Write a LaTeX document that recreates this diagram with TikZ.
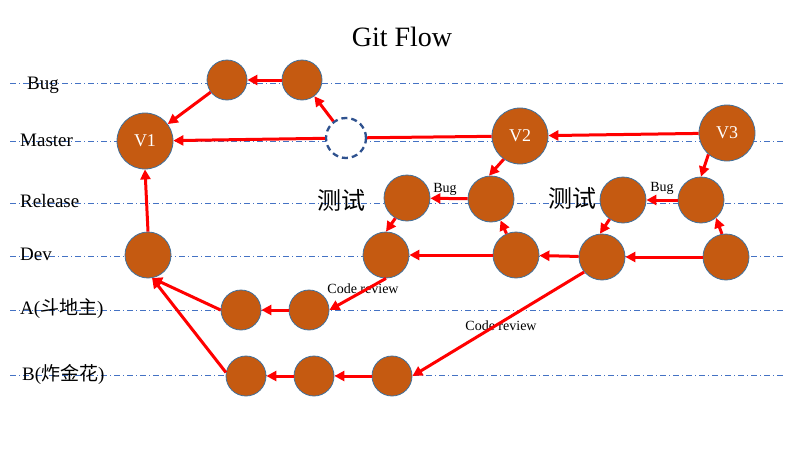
\documentclass[tikz,border=0pt]{standalone}
\usepackage{fontspec}
\setmainfont{Liberation Serif}
\newfontfamily\cjk{Noto Sans CJK SC}
\usetikzlibrary{arrows.meta}
\definecolor{nodefill}{HTML}{C55A11}
\definecolor{nodeedge}{HTML}{41719C}
\definecolor{ghostedge}{HTML}{2F528F}
\definecolor{lanecol}{HTML}{4472C4}
\begin{document}
\begin{tikzpicture}[x=1pt,y=-1pt,
  commit/.style={circle,fill=nodefill,draw=nodeedge,line width=0.8pt,minimum size=40pt,inner sep=0pt},
  bigcommit/.style={commit,minimum size=56pt,text=white,font=\fontsize{18}{18}\selectfont},
  midcommit/.style={commit,minimum size=46pt},
  ghost/.style={circle,fill=white,draw=ghostedge,line width=2.3pt,dash pattern=on 6pt off 4pt,minimum size=40pt,inner sep=0pt},
  lane/.style={draw=lanecol,line width=0.7pt,dash pattern=on 6pt off 3pt on 1pt off 3pt},
  flow/.style={draw=red,line width=3pt,-{Triangle[length=10pt,width=10pt]}},
  plainflow/.style={draw=red,line width=3pt},
  lanelabel/.style={anchor=base west,font=\fontsize{19}{19}\selectfont,inner sep=0pt},
  smalllabel/.style={font=\fontsize{14}{14}\selectfont,inner sep=0pt},
  testlabel/.style={font=\cjk\fontsize{24}{24}\selectfont,inner sep=0pt},
  titlelabel/.style={font=\fontsize{28}{28}\selectfont,inner sep=0pt}
]
\useasboundingbox (0,0) rectangle (800,450);
\fill[white] (0,0) rectangle (800,450);

% lanes
\foreach \yy in {83,141,203,256,310,375}
  \draw[lane] (10,\yy) -- (785,\yy);

% title and lane labels
\node[titlelabel] (title) at (402,37) {Git Flow};
\node[lanelabel] (lBug) at (27,89) {Bug};
\node[lanelabel] (lMaster) at (20,146) {Master};
\node[lanelabel] (lRelease) at (20,207) {Release};
\node[lanelabel] (lDev) at (20,260) {Dev};
\node[lanelabel] (lA) at (20,314) {A({\cjk 斗地主})};
\node[lanelabel] (lB) at (22,380) {B({\cjk 炸金花})};

% commits
\node[bigcommit] (V1) at (145,141) {V1};
\node[commit] (G1) at (227,80) {};
\node[commit] (G2) at (302,80) {};
\node[ghost] (H) at (346,138) {};
\node[bigcommit] (V2) at (520,136) {V2};
\node[bigcommit] (V3) at (727,133) {V3};
\node[midcommit] (R1) at (407,198) {};
\node[midcommit] (R2) at (491,199) {};
\node[midcommit] (R3) at (623,200) {};
\node[midcommit] (R4) at (701,200) {};
\node[midcommit] (D1) at (148,255) {};
\node[midcommit] (D2) at (386,255) {};
\node[midcommit] (D3) at (516,255) {};
\node[midcommit] (D4) at (602,257) {};
\node[midcommit] (D5) at (726,257) {};
\node[commit] (A1) at (241,310) {};
\node[commit] (A2) at (309,310) {};
\node[commit] (B1) at (246,376) {};
\node[commit] (B2) at (314,376) {};
\node[commit] (B3) at (392,376) {};

% texts
\node[testlabel] (t1) at (341,200) {测试};
\node[testlabel] (t2) at (572,198) {测试};
\node[smalllabel] (bug1) at (445,189) {Bug};
\node[smalllabel] (bug2) at (662,188) {Bug};
\node[smalllabel] (cr1) at (363,289) {Code review};
\node[smalllabel] (cr2) at (501,326) {Code review};

% connectors
\draw[flow] (G1) -- (V1);
\draw[flow] (G2) -- (G1);
\draw[flow] (H) -- (G2);
\draw[flow] (H) -- (V1);
\draw[plainflow] (V2) -- (H);
\draw[flow] (V3) -- (V2);
\draw[flow] (V2.235) -- (R2.95);
\draw[flow] (R2) -- (R1);
\draw[flow] (D3) -- (R2);
\draw[flow] (R1.240) -- (D2.north);
\draw[flow] (D3) -- (D2);
\draw[flow] (D4) -- (D3);
\draw[flow] (R3.235) -- (D4.95);
\draw[flow] (V3.229) -- (R4.north);
\draw[flow] (R4) -- (R3);
\draw[flow] (D5.100) -- (R4.-50);
\draw[flow] (D5) -- (D4);
\draw[flow] (D4.220) -- (B3.east);
\draw[flow] (D1.north) -- (V1.south);
\draw[flow] (D2.south) -- (A2.east);
\draw[flow] (A2) -- (A1);
\draw[flow] (A1.west) -- (D1.-80);
\draw[flow] (B1.170) -- (D1.-80);
\draw[flow] (B2) -- (B1);
\draw[flow] (B3) -- (B2);
\end{tikzpicture}
\end{document}
